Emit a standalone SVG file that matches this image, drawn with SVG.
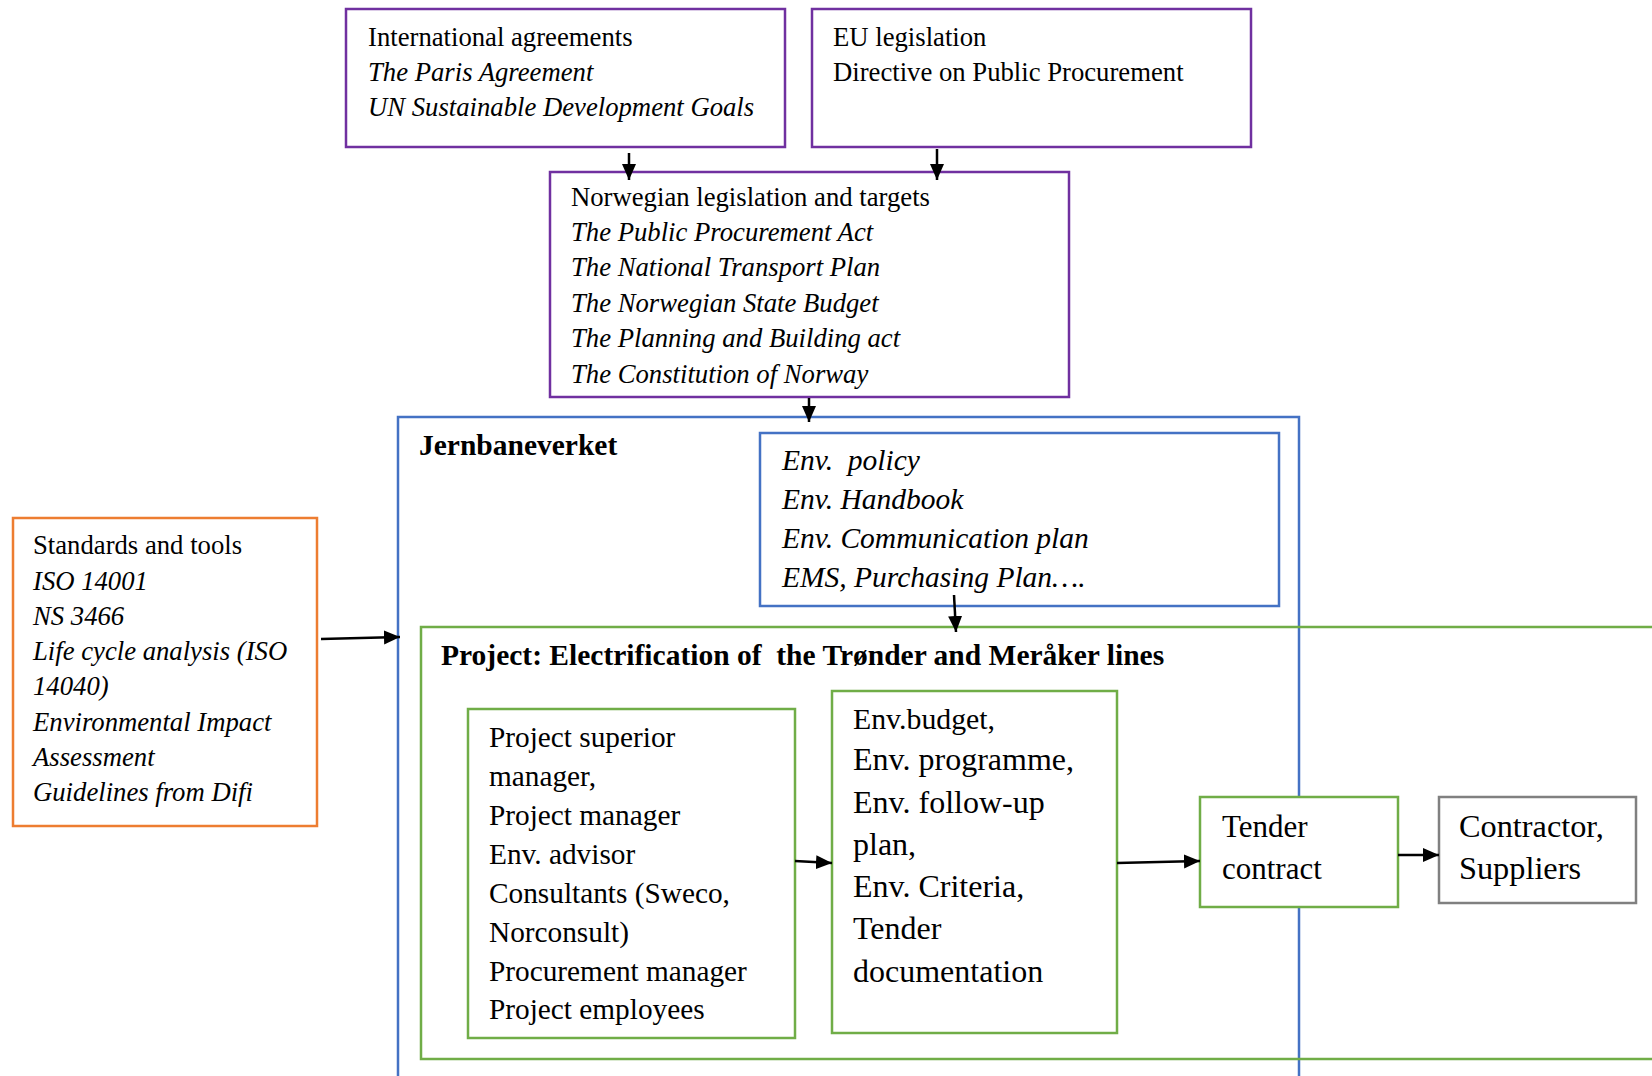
<svg xmlns="http://www.w3.org/2000/svg" width="1652" height="1076" viewBox="0 0 1652 1076">
  <style>
    text { font-family: "Liberation Serif", "Times New Roman", serif; fill: #000; }
    .t26 { font-size: 26.7px; }
    .t29 { font-size: 29.3px; }
    .tpol { font-size: 29.5px; }
    .tdoc { font-size: 32px; }
    .tbud { font-size: 29.8px; }
    .t31 { font-size: 31px; }
    .t32 { font-size: 32.3px; }
    .it { font-style: italic; }
    .bold { font-weight: bold; font-size: 29.5px; }
    .box { fill: none; stroke-width: 2.5; }
    .purple { stroke: #7030A0; }
    .blue { stroke: #4472C4; }
    .green { stroke: #70AD47; }
    .orange { stroke: #ED7D31; }
    .gray { stroke: #808080; }
    .filled { fill: #fff; }
    .conn { stroke: #000; stroke-width: 2.5; fill: none; marker-end: url(#arrow); }
  </style>
  <defs>
    <marker id="arrow" markerUnits="userSpaceOnUse" markerWidth="17" markerHeight="15" refX="16" refY="7" orient="auto">
      <path d="M0,0 L16,7 L0,14 z" fill="#000"/>
    </marker>
  </defs>
  <rect width="1652" height="1076" fill="#fff"/>

  <!-- International agreements -->
  <g id="international">
    <rect class="box purple" x="346" y="9" width="439" height="138"/>
    <text class="t26" x="368" y="46">International agreements</text>
    <text class="t26 it" x="368" y="81">The Paris Agreement</text>
    <text class="t26 it" x="368" y="116">UN Sustainable Development Goals</text>
  </g>

  <!-- EU legislation -->
  <g id="eu">
    <rect class="box purple" x="812" y="9" width="439" height="138"/>
    <text class="t26" x="833" y="46">EU legislation</text>
    <text class="t26" x="833" y="81">Directive on Public Procurement</text>
  </g>

  <!-- Norwegian legislation -->
  <g id="norwegian">
    <rect class="box purple" x="550" y="172" width="519" height="225"/>
    <text class="t26" x="571" y="206">Norwegian legislation and targets</text>
    <text class="t26 it" x="571" y="241">The Public Procurement Act</text>
    <text class="t26 it" x="571" y="276">The National Transport Plan</text>
    <text class="t26 it" x="571" y="312">The Norwegian State Budget</text>
    <text class="t26 it" x="571" y="347">The Planning and Building act</text>
    <text class="t26 it" x="571" y="383">The Constitution of Norway</text>
  </g>

  <!-- Jernbaneverket (container) -->
  <g id="jernbaneverket">
    <rect class="box blue" x="398" y="417" width="901" height="700"/>
    <text class="bold" x="419" y="455">Jernbaneverket</text>
  </g>

  <!-- Environmental policy documents -->
  <g id="env-policy">
    <rect class="box blue" x="760" y="433" width="519" height="173"/>
    <text class="tpol it" x="782" y="470" xml:space="preserve">Env.  policy</text>
    <text class="tpol it" x="782" y="509">Env. Handbook</text>
    <text class="tpol it" x="782" y="548">Env. Communication plan</text>
    <text class="tpol it" x="782" y="587">EMS, Purchasing Plan….</text>
  </g>

  <!-- Standards and tools -->
  <g id="standards">
    <rect class="box orange" x="13" y="518" width="304" height="308"/>
    <text class="t26" x="33" y="554">Standards and tools</text>
    <text class="t26 it" x="33" y="590">ISO 14001</text>
    <text class="t26 it" x="33" y="625">NS 3466</text>
    <text class="t26 it" x="33" y="660">Life cycle analysis (ISO</text>
    <text class="t26 it" x="33" y="695">14040)</text>
    <text class="t26 it" x="33" y="731">Environmental Impact</text>
    <text class="t26 it" x="33" y="766">Assessment</text>
    <text class="t26 it" x="33" y="801">Guidelines from Difi</text>
  </g>

  <!-- Project (container) -->
  <g id="project">
    <rect class="box green" x="421" y="627" width="1260" height="432"/>
    <text class="bold" x="441" y="665" xml:space="preserve">Project: Electrification of  the Trønder and Meråker lines</text>
  </g>

  <!-- Project organisation -->
  <g id="organisation">
    <rect class="box green" x="468" y="709" width="327" height="329"/>
    <text class="t29" x="489" y="747">Project superior</text>
    <text class="t29" x="489" y="786">manager,</text>
    <text class="t29" x="489" y="825">Project manager</text>
    <text class="t29" x="489" y="864">Env. advisor</text>
    <text class="t29" x="489" y="903">Consultants (Sweco,</text>
    <text class="t29" x="489" y="942">Norconsult)</text>
    <text class="t29" x="489" y="981">Procurement manager</text>
    <text class="t29" x="489" y="1019">Project employees</text>
  </g>

  <!-- Environmental documents -->
  <g id="env-documents">
    <rect class="box green" x="832" y="691" width="285" height="342"/>
    <text class="tbud" x="853" y="729">Env.budget,</text>
    <text class="tdoc" x="853" y="770">Env. programme,</text>
    <text class="tdoc" x="853" y="813">Env. follow-up</text>
    <text class="tdoc" x="853" y="855">plan,</text>
    <text class="tdoc" x="853" y="897">Env. Criteria,</text>
    <text class="tdoc" x="853" y="939">Tender</text>
    <text class="tdoc" x="853" y="982">documentation</text>
  </g>

  <!-- Tender contract -->
  <g id="tender">
    <rect class="box green filled" x="1200" y="797" width="198" height="110"/>
    <text class="t31" x="1222" y="837">Tender</text>
    <text class="t31" x="1222" y="879">contract</text>
  </g>

  <!-- Contractor, suppliers -->
  <g id="contractor">
    <rect class="box gray" x="1439" y="797" width="197" height="106"/>
    <text class="t32" x="1459" y="837">Contractor,</text>
    <text class="t32" x="1459" y="879">Suppliers</text>
  </g>

  <!-- Connectors -->
  <g id="connectors">
    <line class="conn" x1="629" y1="153" x2="629" y2="180"/>
    <line class="conn" x1="937" y1="149" x2="937" y2="180"/>
    <line class="conn" x1="809" y1="398" x2="809" y2="422"/>
    <line class="conn" x1="954" y1="595" x2="956" y2="632"/>
    <line class="conn" x1="321" y1="639" x2="400" y2="637"/>
    <line class="conn" x1="795" y1="861" x2="832" y2="863"/>
    <line class="conn" x1="1117" y1="863" x2="1200" y2="861"/>
    <line class="conn" x1="1398" y1="855" x2="1439" y2="855"/>
  </g>
</svg>
